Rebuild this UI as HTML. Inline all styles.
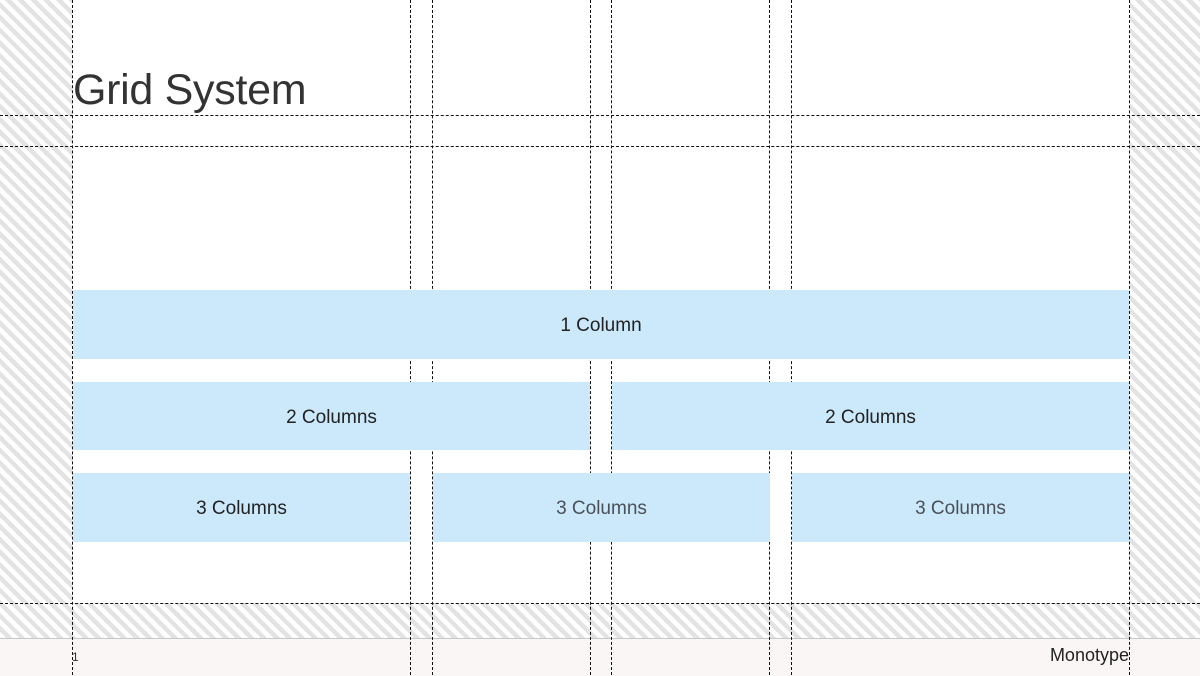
<!DOCTYPE html>
<html><head><style>
html,body{margin:0;padding:0;}
body{width:1200px;height:675px;position:relative;overflow:hidden;background:#fff;font-family:"Liberation Sans",sans-serif;}
.hatch{position:absolute;background:repeating-linear-gradient(45deg,#fff 0 4.5px,#e3e3e3 4.5px 9px);}
.vl{position:absolute;top:0;height:675px;width:0;border-left:1px dashed #111;}
.hl{position:absolute;left:0;width:1200px;height:0;border-top:1px dashed #111;}
.box{position:absolute;background:#cce9fb;display:flex;align-items:center;justify-content:center;font-size:19px;color:#222;padding-top:3px;box-sizing:border-box;}
</style></head><body>
<div class="hatch" style="left:0;top:0;width:72px;height:638px"></div>
<div class="hatch" style="left:1130px;top:0;width:70px;height:638px"></div>
<div class="hatch" style="left:0;top:603px;width:1200px;height:35px"></div>
<div style="position:absolute;left:0;top:638px;width:1200px;height:37px;background:#f9f6f5;border-top:1px solid #c8c8c8"></div>
<div class="vl" style="left:72px"></div>
<div class="vl" style="left:410px"></div>
<div class="vl" style="left:432px"></div>
<div class="vl" style="left:590px"></div>
<div class="vl" style="left:611px"></div>
<div class="vl" style="left:769px"></div>
<div class="vl" style="left:791px"></div>
<div class="vl" style="left:1129px"></div>
<div class="hl" style="top:115px"></div>
<div class="hl" style="top:146px"></div>
<div class="hl" style="top:603px"></div>
<div style="position:absolute;left:73px;top:66px;font-size:43px;color:#333;letter-spacing:-0.3px">Grid System</div>
<div class="box" style="left:73px;top:290px;width:1056px;height:69px">1 Column</div>
<div class="box" style="left:73px;top:382px;width:517px;height:68px">2 Columns</div>
<div class="box" style="left:612px;top:382px;width:517px;height:68px">2 Columns</div>
<div class="box" style="left:73px;top:473px;width:337px;height:69px">3 Columns</div>
<div class="box" style="left:433px;top:473px;width:337px;height:69px;color:#4a5058">3 Columns</div>
<div class="box" style="left:792px;top:473px;width:337px;height:69px;color:#4a5058">3 Columns</div>
<div style="position:absolute;left:72px;top:650px;font-size:12px;color:#333">1</div>
<div style="position:absolute;right:71px;top:645px;font-size:18px;color:#222">Monotype</div>
</body></html>
